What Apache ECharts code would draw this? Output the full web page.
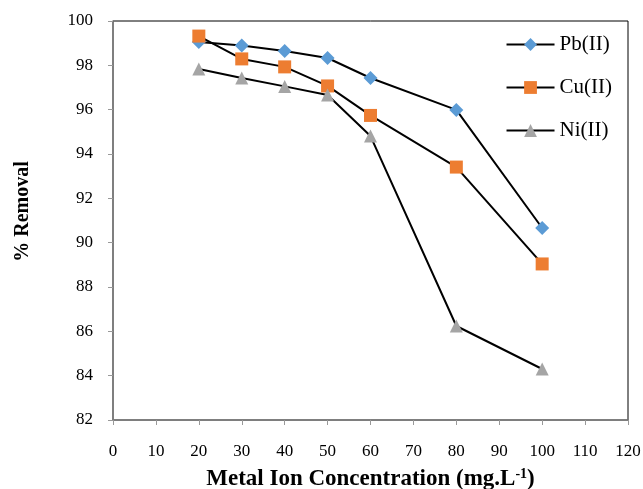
<!DOCTYPE html>
<html>
<head>
<meta charset="utf-8">
<script src="https://cdn.jsdelivr.net/npm/echarts@6/dist/echarts.min.js"></script>
<style>
  html, body { margin: 0; padding: 0; background: #fff; }
  #chart { width: 643px; height: 489px; }
</style>
</head>
<body>
<div id="chart"></div>
<script>
// Metal ion concentration (mg/L) and percentage removal for each ion
var concentration = [20, 30, 40, 50, 60, 80, 100];
var pbRemoval = [99.05, 98.9, 98.65, 98.33, 97.43, 95.99, 90.66];
var cuRemoval = [99.32, 98.29, 97.93, 97.07, 95.74, 93.41, 89.04];
var niRemoval = [97.83, 97.43, 97.05, 96.66, 94.81, 86.24, 84.3];
var seriesNames = ['Pb(II)', 'Cu(II)', 'Ni(II)'];

function pairs(xs, ys) {
  return xs.map(function (x, i) { return [x, ys[i]]; });
}

var serif = '"Liberation Serif", "Times New Roman", serif';

var chart = echarts.init(document.getElementById('chart'));

function lineSeries(name, values, symbol, size, color) {
  return {
    name: name,
    type: 'line',
    data: pairs(concentration, values),
    symbol: symbol,
    symbolSize: size,
    showAllSymbol: true,
    lineStyle: { color: '#000', width: 2 },
    itemStyle: { color: color },
    emphasis: { disabled: true },
    z: 3
  };
}

chart.setOption({
  animation: false,
  backgroundColor: '#fff',
  grid: {
    left: 113, right: 15, top: 21, bottom: 69,
    containLabel: false,
    outerBoundsMode: 'none',
    show: true, borderColor: '#000', borderWidth: 1
  },
  legend: {
    orient: 'vertical',
    right: 26, top: 29,
    itemWidth: 48, itemHeight: 16,
    itemGap: 22,
    textStyle: { fontFamily: serif, fontSize: 21, color: '#000' },
    data: seriesNames
  },
  xAxis: {
    type: 'value',
    min: 0, max: 120, interval: 10,
    axisLine: { show: true, lineStyle: { color: '#7f7f7f', width: 1.5 } },
    axisTick: { show: true, length: 5, lineStyle: { color: '#999' } },
    splitLine: { show: false },
    axisLabel: { fontFamily: serif, fontSize: 17, color: '#000', margin: 23 },
    name: '{t|Metal Ion Concentration (mg.L}{s|-1}{t|)}',
    nameLocation: 'middle',
    nameGap: 47,
    nameTextStyle: {
      rich: {
        t: { fontFamily: serif, fontSize: 23, fontWeight: 'bold', color: '#000' },
        s: { fontFamily: serif, fontSize: 14, fontWeight: 'bold', color: '#000', verticalAlign: 'top', padding: [0, 0, 10, 0] }
      }
    }
  },
  yAxis: {
    type: 'value',
    min: 82, max: 100, interval: 2,
    axisLine: { show: true, lineStyle: { color: '#7f7f7f', width: 1.5 } },
    axisTick: { show: true, length: 5, lineStyle: { color: '#999' } },
    splitLine: { show: false },
    axisLabel: { fontFamily: serif, fontSize: 17, color: '#000', margin: 20 },
    name: '% Removal',
    nameLocation: 'middle',
    nameGap: 80,
    nameTextStyle: { fontFamily: serif, fontSize: 20, fontWeight: 'bold', color: '#000', padding: [0, 0, 0, 18] }
  },
  series: [
    lineSeries('Pb(II)', pbRemoval, 'diamond', 14, '#5B9BD5'),
    lineSeries('Cu(II)', cuRemoval, 'rect', 13, '#ED7D31'),
    lineSeries('Ni(II)', niRemoval, 'triangle', 13, '#A5A5A5')
  ]
});
</script>
</body>
</html>
